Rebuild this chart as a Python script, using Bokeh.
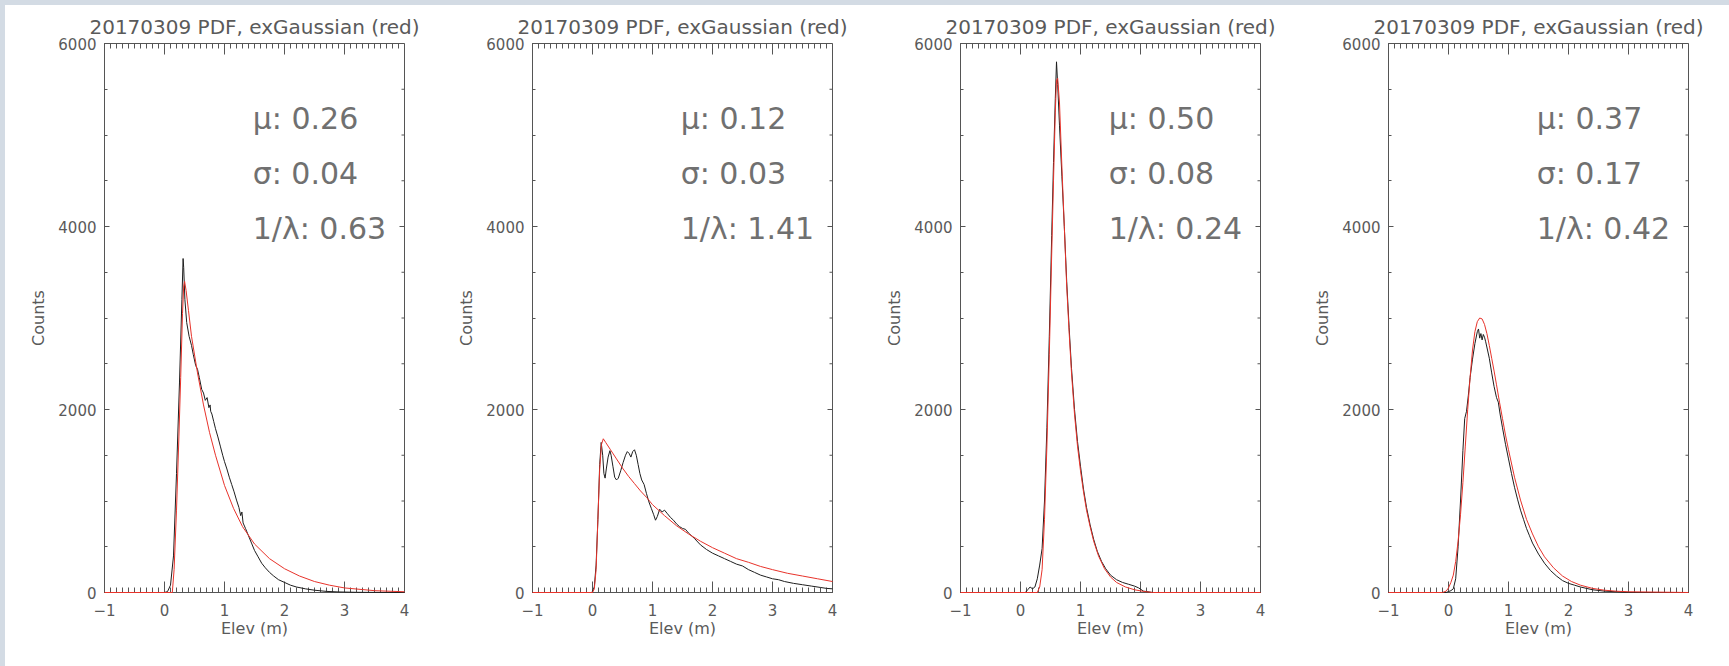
from bokeh.plotting import figure
from bokeh.models import Range1d, FixedTicker, Label, Div, Title
from bokeh.layouts import row, column
from bokeh.embed import file_html
from bokeh.resources import INLINE

# ---------------- data ----------------
TITLE = "20170309 PDF, exGaussian (red)"
X_LABEL = "Elev (m)"
Y_LABEL = "Counts"
x_ticks = [-1, 0, 1, 2, 3, 4]
y_ticks = [0, 2000, 4000, 6000]

mu_vals = ["0.26", "0.12", "0.50", "0.37"]
sigma_vals = ["0.04", "0.03", "0.08", "0.17"]
inv_lambda_vals = ["0.63", "1.41", "0.24", "0.42"]

# panel 1
elev_obs_1 = [-1.0, 0.0, 0.05, 0.10, 0.15, 0.20, 0.25, 0.29, 0.31, 0.32, 0.34, 0.37, 0.41, 0.45,
              0.48, 0.52, 0.55, 0.58, 0.62, 0.65, 0.68, 0.71, 0.74, 0.76, 0.77, 0.79, 0.82, 0.85,
              0.89, 0.93, 0.97, 1.00, 1.04, 1.08, 1.12, 1.16, 1.20, 1.24, 1.27, 1.29, 1.31, 1.35,
              1.40, 1.45, 1.50, 1.56, 1.62, 1.68, 1.75, 1.82, 1.90, 2.00, 2.10, 2.20, 2.35, 2.50,
              2.70, 2.90, 3.20, 4.0]
counts_obs_1 = [0, 0, 10, 80, 400, 1300, 2300, 3200, 3650, 3550, 3200, 2950, 2800, 2700,
                2600, 2480, 2440, 2350, 2220, 2180, 2100, 2130, 2020, 2050, 1980, 1950, 1870, 1790,
                1700, 1600, 1500, 1430, 1350, 1260, 1180, 1100, 1010, 930, 840, 880, 760, 700,
                620, 540, 460, 390, 320, 270, 220, 180, 140, 110, 80, 60, 40, 25,
                12, 6, 2, 0]
elev_fit_1 = [-1.0, 0.13, 0.16, 0.20, 0.24, 0.27, 0.30, 0.32, 0.335, 0.36, 0.40, 0.45, 0.55, 0.65,
              0.75, 0.85, 1.0, 1.15, 1.3, 1.5, 1.75, 2.0, 2.25, 2.5, 2.75, 3.0, 3.5, 4.0]
counts_fit_1 = [0, 0, 250, 900, 1700, 2350, 3050, 3350, 3400, 3300, 3080, 2800, 2400, 2050,
                1750, 1500, 1170, 920, 720, 530, 370, 260, 180, 120, 80, 50, 20, 8]

# panel 2
elev_obs_2 = [-1.0, -0.01, 0.03, 0.06, 0.09, 0.12, 0.145, 0.17, 0.19, 0.21, 0.23, 0.26, 0.29, 0.31,
              0.34, 0.37, 0.40, 0.43, 0.47, 0.51, 0.55, 0.58, 0.61, 0.64, 0.67, 0.70, 0.73, 0.76,
              0.79, 0.82, 0.86, 0.90, 0.94, 0.98, 1.02, 1.05, 1.08, 1.12, 1.16, 1.20, 1.25, 1.30,
              1.35, 1.40, 1.45, 1.50, 1.55, 1.60, 1.70, 1.80, 1.90, 2.00, 2.10, 2.20, 2.30, 2.40,
              2.50, 2.60, 2.70, 2.80, 2.90, 3.00, 3.10, 3.20, 3.35, 3.50, 3.65, 3.80, 3.90, 4.0]
counts_obs_2 = [0, 0, 60, 300, 800, 1400, 1640, 1500, 1300, 1250, 1350, 1480, 1550, 1500,
                1380, 1260, 1230, 1250, 1330, 1420, 1500, 1540, 1520, 1480, 1540, 1560, 1500, 1400,
                1300, 1230, 1180, 1080, 990, 920, 850, 790, 830, 910, 880, 900, 860, 820,
                790, 750, 720, 700, 690, 650, 590, 520, 470, 430, 400, 370, 340, 310,
                290, 250, 220, 190, 170, 150, 140, 120, 100, 85, 70, 55, 45, 40]
elev_fit_2 = [-1.0, 0.0, 0.03, 0.06, 0.09, 0.12, 0.15, 0.18, 0.22, 0.3, 0.4, 0.5, 0.6, 0.7, 0.8,
              0.9, 1.0, 1.2, 1.4, 1.6, 1.8, 2.0, 2.2, 2.4, 2.6, 2.8, 3.0, 3.25, 3.5, 3.75, 4.0]
counts_fit_2 = [0, 0, 40, 250, 800, 1350, 1620, 1680, 1640, 1560, 1460, 1360, 1270, 1190, 1110,
                1040, 960, 840, 730, 640, 560, 490, 430, 370, 330, 285, 250, 210, 180, 150, 120]

# panel 3
elev_obs_3 = [-1.0, 0.08, 0.12, 0.16, 0.20, 0.24, 0.28, 0.32, 0.36, 0.40, 0.44, 0.48, 0.52, 0.55,
              0.58, 0.60, 0.62, 0.65, 0.69, 0.73, 0.77, 0.81, 0.85, 0.90, 0.95, 1.00, 1.05, 1.10,
              1.16, 1.22, 1.28, 1.35, 1.42, 1.50, 1.60, 1.70, 1.80, 1.90, 1.97, 2.05, 2.2, 4.0]
counts_obs_3 = [0, 0, 30, 60, 40, 60, 150, 300, 480, 1000, 1800, 2800, 3900, 4700,
                5400, 5800, 5550, 5100, 4550, 4000, 3400, 2900, 2450, 2000, 1650, 1380, 1130, 930,
                740, 580, 450, 340, 260, 190, 140, 110, 90, 70, 50, 15, 0, 0]
elev_fit_3 = [-1.0, 0.28, 0.32, 0.36, 0.40, 0.44, 0.48, 0.52, 0.55, 0.58, 0.60, 0.62, 0.65, 0.69,
              0.73, 0.77, 0.81, 0.85, 0.90, 0.95, 1.00, 1.05, 1.10, 1.16, 1.22, 1.30, 1.40, 1.50,
              1.60, 1.75, 1.90, 2.05, 2.2, 4.0]
counts_fit_3 = [0, 0, 60, 250, 800, 1600, 2600, 3700, 4500, 5250, 5600, 5620, 5350, 4650,
                4000, 3350, 2850, 2400, 1950, 1600, 1330, 1100, 900, 720, 560, 400, 260, 170,
                110, 60, 30, 12, 0, 0]

# panel 4
elev_obs_4 = [-1.0, -0.04, 0.0, 0.04, 0.08, 0.12, 0.16, 0.20, 0.24, 0.27, 0.30, 0.33, 0.36, 0.40,
              0.44, 0.48, 0.50, 0.52, 0.54, 0.56, 0.58, 0.60, 0.62, 0.65, 0.68, 0.72, 0.76, 0.80,
              0.83, 0.86, 0.90, 0.95, 1.00, 1.05, 1.10, 1.15, 1.20, 1.25, 1.30, 1.35, 1.40, 1.50,
              1.60, 1.70, 1.80, 1.90, 2.00, 2.10, 2.20, 2.30, 2.40, 2.60, 2.80, 3.0, 4.0]
counts_obs_4 = [0, 0, 10, 20, 40, 150, 500, 1000, 1550, 1900, 1980, 2150, 2350, 2550,
                2720, 2850, 2880, 2780, 2830, 2760, 2820, 2790, 2740, 2650, 2560, 2400, 2250, 2130,
                2080, 1950, 1800, 1620, 1460, 1300, 1150, 1020, 900, 800, 700, 620, 540, 420,
                320, 240, 180, 130, 100, 80, 60, 45, 30, 15, 8, 0, 0]
elev_fit_4 = [-1.0, -0.1, -0.04, 0.0, 0.04, 0.08, 0.12, 0.16, 0.20, 0.24, 0.28, 0.32, 0.36, 0.40,
              0.44, 0.48, 0.52, 0.56, 0.60, 0.64, 0.68, 0.72, 0.76, 0.80, 0.85, 0.90, 0.95, 1.00,
              1.10, 1.20, 1.30, 1.40, 1.50, 1.60, 1.75, 1.90, 2.05, 2.20, 2.40, 2.60, 2.80, 3.0, 4.0]
counts_fit_4 = [0, 0, 15, 50, 110, 190, 340, 560, 850, 1200, 1600, 2000, 2350, 2650,
                2850, 2960, 3000, 2990, 2930, 2830, 2700, 2560, 2420, 2270, 2080, 1900, 1720, 1560,
                1260, 1010, 800, 640, 500, 390, 270, 180, 120, 80, 45, 25, 14, 8, 0]

panels = [
    (elev_obs_1, counts_obs_1, elev_fit_1, counts_fit_1),
    (elev_obs_2, counts_obs_2, elev_fit_2, counts_fit_2),
    (elev_obs_3, counts_obs_3, elev_fit_3, counts_fit_3),
    (elev_obs_4, counts_obs_4, elev_fit_4, counts_fit_4),
]

# ---------------- style ----------------
FONT = "DejaVu Sans"
TXT = "#5a5a5a"
AX = "#555555"
BG_BAND = "#d3dbe4"
X0, X1, Y0, Y1 = -1, 4, 0, 6000
FRAME_W, FRAME_H = 300, 549
DX_PX = (X1 - X0) / FRAME_W     # data units per screen px, horizontal
DY_PX = (Y1 - Y0) / FRAME_H     # data units per screen px, vertical
X_MAJ_LEN, X_MIN_LEN = 11, 5
Y_MAJ_LEN, Y_MIN_LEN = 5, 3
x_minor = [round(X0 + 0.1 * i, 2) for i in range(51)]
y_minor = [500 * i for i in range(13)]


def style_axis(ax, major_in, minor_in):
    ax.axis_line_color = AX
    ax.axis_line_width = 1
    ax.major_tick_line_color = AX
    ax.minor_tick_line_color = AX
    ax.major_tick_in = major_in
    ax.major_tick_out = 0
    ax.minor_tick_in = minor_in
    ax.minor_tick_out = 0
    ax.major_label_text_font = FONT
    ax.major_label_text_color = TXT
    ax.major_label_text_font_size = "15px"
    ax.axis_label_text_font = FONT
    ax.axis_label_text_color = TXT
    ax.axis_label_text_font_style = "normal"
    ax.axis_label_text_font_size = "16px"


figs = []
for i, (xo, yo, xf, yf) in enumerate(panels):
    p = figure(width=428, height=661, x_range=Range1d(X0, X1), y_range=Range1d(Y0, Y1),
               output_backend="svg", toolbar_location=None,
               min_border_left=99, min_border_right=29, min_border_top=38, min_border_bottom=74,
               background_fill_color="white", border_fill_color="white",
               outline_line_color=AX, outline_line_width=1, margin=0)
    p.title = Title(text=TITLE, align="center", text_font=FONT, text_font_size="20px",
                    text_font_style="normal", text_color=TXT, standoff=9)
    p.xgrid.visible = False
    p.ygrid.visible = False

    xa = p.xaxis[0]
    xa.ticker = FixedTicker(ticks=x_ticks, minor_ticks=x_minor)
    xa.axis_label = X_LABEL
    style_axis(xa, X_MAJ_LEN, X_MIN_LEN)
    xa.major_label_standoff = 11
    xa.axis_label_standoff = 0
    xa.major_label_overrides = {-1: "\u22121"}

    ya = p.yaxis[0]
    ya.ticker = FixedTicker(ticks=y_ticks, minor_ticks=y_minor)
    ya.axis_label = Y_LABEL
    style_axis(ya, Y_MAJ_LEN, Y_MIN_LEN)
    ya.major_label_standoff = 8
    ya.axis_label_standoff = 7

    # inward ticks on the top and right sides of the box (IDL style)
    top_x = [t for t in x_minor]
    top_len = [X_MAJ_LEN if any(abs(t - m) < 1e-9 for m in x_ticks) else X_MIN_LEN for t in top_x]
    p.segment(x0=top_x, y0=[Y1] * len(top_x), x1=top_x,
              y1=[Y1 - L * DY_PX for L in top_len], line_color=AX, line_width=1)
    right_y = [t for t in y_minor]
    right_len = [Y_MAJ_LEN if t in y_ticks else Y_MIN_LEN for t in right_y]
    p.segment(x0=[X1] * len(right_y), y0=right_y, x1=[X1 - L * DX_PX for L in right_len],
              y1=right_y, line_color=AX, line_width=1)

    p.line(xo, yo, line_color="#1e1e1e", line_width=1, level="overlay")
    p.line(xf, yf, line_color="#e8332b", line_width=1, level="overlay")

    for txt, yy in ((f"\u03bc: {mu_vals[i]}", 5180), (f"\u03c3: {sigma_vals[i]}", 4580),
                    (f"1/\u03bb: {inv_lambda_vals[i]}", 3980)):
        p.add_layout(Label(x=1.47, y=yy, text=txt, text_font=FONT, text_font_size="30px",
                           text_baseline="middle", text_align="left", text_color="#707070"))
    figs.append(p)

band_top = Div(text="", width=1729, height=5, margin=0, styles={"background-color": BG_BAND})
band_left = Div(text="", width=5, height=661, margin=0, styles={"background-color": BG_BAND})
layout = column(band_top, row(band_left, *figs, margin=0), margin=0)

open("out.html", "w").write(file_html(layout, INLINE))
